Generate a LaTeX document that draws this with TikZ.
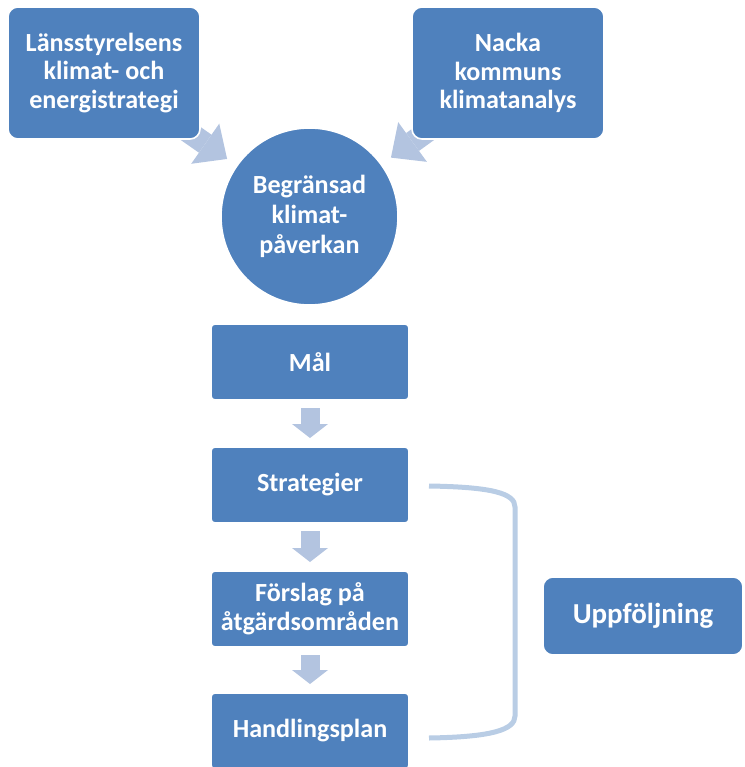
\documentclass[tikz,border=0pt]{standalone}
\usepackage{fontspec}
\setmainfont{Carlito}
\usetikzlibrary{arrows.meta,backgrounds}

\definecolor{boxblue}{HTML}{4F81BD}
\definecolor{arrowblue}{HTML}{B3C4E0}
\definecolor{linkblue}{HTML}{B9CDE5}

\tikzset{
  box/.style={rectangle, rounded corners=3pt, fill=boxblue, draw=white, line width=1.2pt,
    text=white, font=\bfseries\fontsize{19.6}{21.6}\selectfont, align=center,
    minimum width=148.5pt, minimum height=57pt, inner sep=2pt, outer sep=0pt},
  bigbox/.style={box, rounded corners=7.5pt, minimum width=144pt, minimum height=99pt},
  flow/.style={draw=arrowblue, line width=14.25pt,
    -{Triangle[width=27pt,length=10.5pt,line width=0pt]}, shorten <=6pt, shorten >=6.75pt},
  feed/.style={draw=arrowblue, line width=16.5pt,
    -{Triangle[width=36.75pt,length=20pt,line width=0pt]}, shorten >=9pt},
  bracket/.style={draw=linkblue, line width=3.75pt}
}

\begin{document}
\begin{tikzpicture}[x=0.75pt,y=-0.75pt]
        \useasboundingbox (0,0) rectangle (744,767);

        % Sources
        \node[bigbox] (lans) at (104,73) {Länsstyrelsens\\klimat- och\\energistrategi};
        \node[bigbox] (nacka) at (508,73) {Nacka\\kommuns\\klimatanalys};
        \node[circle, fill=boxblue, draw=white, line width=1.2pt, text=white, align=center,
          font=\bfseries\fontsize{19.6}{22.4}\selectfont, minimum size=132.75pt,
          inner sep=0pt, outer sep=0pt] (klimat) at (309.5,216.5) {Begränsad\\klimat-\\påverkan};

        % Chain of steps
        \node[box] (mal) at (310,362) {Mål};
        \node[box] (strat) at (310,485) {Strategier};
        \node[box] (forslag) at (310,609) {Förslag på\\åtgärdsområden};
        \node[box] (handl) at (310,731) {Handlingsplan};

        % Follow-up
        \node[box, rounded corners=7.5pt, minimum width=150pt, minimum height=58.5pt,
          font=\bfseries\fontsize{21.7}{24}\selectfont] (uppf) at (643,616) {Uppföljning};

        \begin{scope}[on background layer]
          \draw[feed] (lans.center) -- (klimat);
          \draw[feed] (nacka.center) -- (klimat);
        \end{scope}

        \draw[flow] (mal) -- (strat);
        \draw[flow] (strat) -- (forslag);
        \draw[flow] (forslag) -- (handl);

        % Bracket round strategier .. handlingsplan
        \coordinate (btop) at ([xshift=15pt,yshift=-0.75pt]strat.east);
        \coordinate (bbot) at ([xshift=15pt,yshift=-5.25pt]handl.east);
        \draw[bracket] (btop) .. controls +(62,1) and +(0,-14) .. (515,507)
          -- (515,716) .. controls +(0,14) and +(62,-1) .. (bbot);
    \end{tikzpicture}
\end{document}
